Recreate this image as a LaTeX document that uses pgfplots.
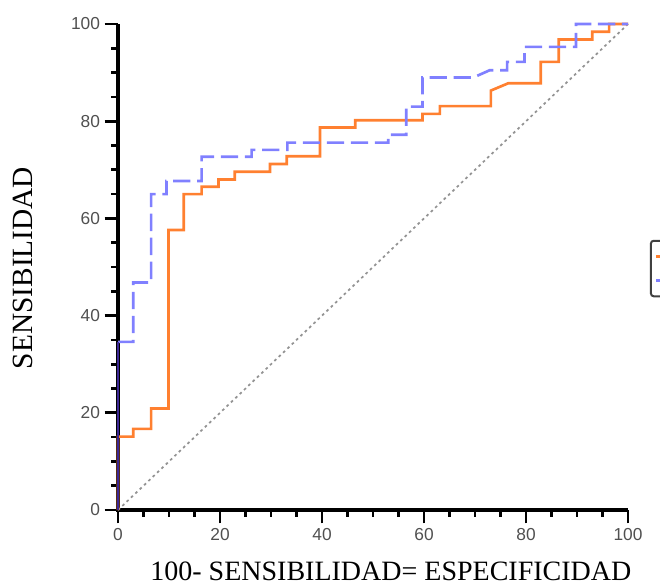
\documentclass[border=0pt]{standalone}
\usepackage{pgfplots}
\pgfplotsset{compat=1.18}
\usepackage{fontspec}
\setmainfont{Liberation Serif}
\newfontfamily\ticksans{Liberation Sans}

\definecolor{rocorange}{RGB}{255,128,48}
\definecolor{rocblue}{RGB}{128,128,255}
\definecolor{rocnavy}{RGB}{60,40,150}
\definecolor{tickgray}{RGB}{80,80,80}

\begin{document}
\begin{tikzpicture}
\begin{axis}[
    scale only axis,
    width=382.5pt, height=364.5pt,
    xmin=0, xmax=100, ymin=0, ymax=100,
    axis lines=left,
    axis line style={draw=none},
    xtick={0,20,...,100}, ytick={0,20,...,100},
    minor tick num=3,
    tick align=outside,
    major tick length=10pt, minor tick length=5pt,
    xtick style={draw=black, line width=2pt},
    ytick style={draw=black, line width=2pt},
    tick label style={font=\ticksans\fontsize{13}{15}\selectfont, text=tickgray},
    /pgf/number format/assume math mode=true,
    xlabel={100- SENSIBILIDAD= ESPECIFICIDAD},
    ylabel={SENSIBILIDAD},
    every axis x label/.style={at={(axis description cs:0.535,-0.144)}, anchor=base, font=\fontsize{21}{24}\selectfont},
    every axis y label/.style={at={(axis description cs:-0.186,0.498)}, anchor=center, rotate=90, font=\fontsize{22}{25}\selectfont},
    clip=false,
    legend style={at={(axis cs:104.3,55.6)}, anchor=north west, draw=black!75, line width=1.5pt, rounded corners=2pt, fill=white, font=\ticksans\fontsize{12}{14}\selectfont, inner ysep=4pt, row sep=3pt},
]
% axis lines
\addplot[forget plot, black, line width=2.3pt] coordinates {(0,100) (0,0) (100,0)};
% diagonal reference
\addplot[forget plot, gray!85, line width=1.3pt, dash pattern=on 2pt off 2.5pt] coordinates {(0,0) (100,100)};

\addplot[rocorange, line width=2pt] coordinates {
    (0,0) (0,15.1) (3.0,15.1) (3.0,16.7) (6.5,16.7) (6.5,20.9) (9.9,20.9) (9.9,57.6)
    (12.9,57.6) (12.9,65.0) (16.4,65.0) (16.4,66.5) (19.7,66.5) (19.7,68.0) (22.9,68.0)
    (22.9,69.6) (29.8,69.6) (29.8,71.2) (33.1,71.2) (33.1,72.8) (39.6,72.8) (39.6,78.7)
    (46.5,78.7) (46.5,80.2) (59.7,80.2) (59.7,81.5) (63.1,81.5) (63.1,83.1) (73.1,83.1)
    (73.1,86.3) (76.5,87.8) (82.9,87.8) (82.9,92.2) (86.4,92.2) (86.4,96.8) (93.0,96.8)
    (93.0,98.4) (96.3,98.4) (96.3,100) (100,100)
};
\addlegendentry{\strut}

\addplot[rocblue, line width=2pt, dash pattern=on 13pt off 5pt] coordinates {
    (0,34.6) (3.0,34.6) (3.0,46.8) (6.5,46.8) (6.5,65.0) (9.5,65.0) (9.5,67.7) (16.4,67.7)
    (16.4,72.7) (26.2,72.7) (26.2,74.1) (33.2,74.1) (33.2,75.6) (53.0,75.6) (53.0,77.2)
    (56.5,77.2) (56.5,83.0) (59.7,83.0) (59.7,89.0) (69.7,89.0) (72.9,90.5) (76.3,90.5)
    (76.3,92.2) (79.7,92.2) (79.7,95.3) (89.8,95.3) (89.8,100) (100,100)
};
\addlegendentry{\strut}

\addplot[forget plot, rocnavy, line width=2pt] coordinates {(0,0) (0,34.6)};

\coordinate (bbsw) at (axis cs:-23.14,-15.64);
\coordinate (bbne) at (axis cs:106.27,104.94);
\end{axis}
\pgfresetboundingbox
\useasboundingbox (bbsw) rectangle (bbne);
\end{tikzpicture}
\end{document}
